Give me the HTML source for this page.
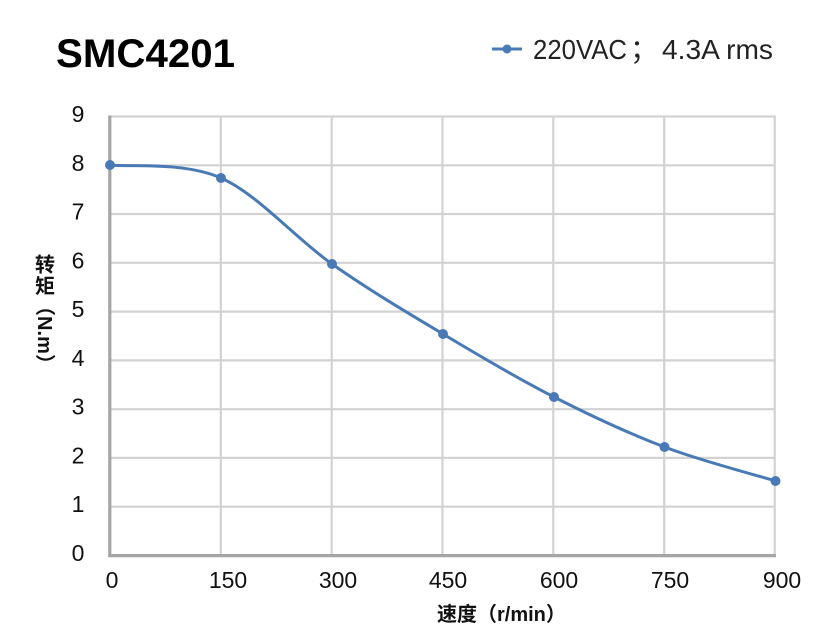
<!DOCTYPE html>
<html>
<head>
<meta charset="utf-8">
<style>
  html,body{margin:0;padding:0;background:#fff;}
  svg{display:block;}
  text{font-family:"Liberation Sans","Noto Sans CJK SC",sans-serif;}
</style>
</head>
<body>
<svg width="831" height="640" viewBox="0 0 831 640" xmlns="http://www.w3.org/2000/svg">
  <rect width="831" height="640" fill="#fff"/>
  <!-- Title -->
  <text x="56" y="67" font-size="40" font-weight="bold" fill="#000" textLength="179" lengthAdjust="spacingAndGlyphs">SMC4201</text>
  <!-- Legend -->
  <line x1="492" y1="49" x2="522" y2="49" stroke="#4a7ab6" stroke-width="3"/>
  <circle cx="507" cy="49" r="4.5" fill="#4a7ab6"/>
  <g font-size="28" fill="#222">
    <text x="533" y="59" textLength="94" lengthAdjust="spacingAndGlyphs">220VAC</text>
    <text x="630" y="59">；</text>
    <text x="662" y="59" textLength="111" lengthAdjust="spacingAndGlyphs">4.3A rms</text>
  </g>

  <!-- Grid -->
  <g stroke="#d2d2d2" stroke-width="2.2" fill="none">
    <line x1="110" y1="116.5" x2="775" y2="116.5"/>
    <line x1="110" y1="165.3" x2="775" y2="165.3"/>
    <line x1="110" y1="214" x2="775" y2="214"/>
    <line x1="110" y1="262.8" x2="775" y2="262.8"/>
    <line x1="110" y1="311.6" x2="775" y2="311.6"/>
    <line x1="110" y1="360.4" x2="775" y2="360.4"/>
    <line x1="110" y1="409.2" x2="775" y2="409.2"/>
    <line x1="110" y1="457.9" x2="775" y2="457.9"/>
    <line x1="110" y1="506.7" x2="775" y2="506.7"/>
    <line x1="220.8" y1="116.5" x2="220.8" y2="555"/>
    <line x1="331.7" y1="116.5" x2="331.7" y2="555"/>
    <line x1="442.5" y1="116.5" x2="442.5" y2="555"/>
    <line x1="553.3" y1="116.5" x2="553.3" y2="555"/>
    <line x1="664.2" y1="116.5" x2="664.2" y2="555"/>
    <line x1="774.7" y1="115.4" x2="774.7" y2="555"/>
  </g>
  <!-- Axes -->
  <g stroke="#a5a5a7" stroke-width="3.2" fill="none">
    <line x1="109.8" y1="115.5" x2="109.8" y2="557"/>
    <line x1="108.2" y1="555.6" x2="776" y2="555.6"/>
  </g>

  <!-- Y tick labels -->
  <g font-size="23" fill="#111" text-anchor="middle">
    <text x="78" y="122">9</text>
    <text x="78" y="170.8">8</text>
    <text x="78" y="219.5">7</text>
    <text x="78" y="268.3">6</text>
    <text x="78" y="317.1">5</text>
    <text x="78" y="365.9">4</text>
    <text x="78" y="414.7">3</text>
    <text x="78" y="463.4">2</text>
    <text x="78" y="512.2">1</text>
    <text x="78" y="561">0</text>
  </g>
  <!-- X tick labels -->
  <g font-size="23" fill="#111" text-anchor="middle">
    <text x="112" y="588">0</text>
    <text x="228" y="588">150</text>
    <text x="338" y="588">300</text>
    <text x="448" y="588">450</text>
    <text x="559" y="588">600</text>
    <text x="670" y="588">750</text>
    <text x="782" y="588">900</text>
  </g>

  <!-- Axis titles -->
  <text x="437" y="621" font-size="20" font-weight="bold" fill="#111">速度（r/min）</text>
  <g font-size="20" font-weight="bold" fill="#111">
    <text x="45" y="271.5" text-anchor="middle">转</text>
    <text x="45" y="293" text-anchor="middle">矩</text>
    <text transform="translate(38,296) rotate(90)" textLength="78" lengthAdjust="spacing">（N.m）</text>
  </g>

  <!-- Series -->
  <path d="M110,165 C128.5,167.2 184,161.5 221,178
           C258,194.5 295,238 332,264
           C369,290 406,311.8 443,334
           C480,356.2 517.1,378.2 554,397
           C590.9,415.8 627.6,433 664.5,447
           C701.4,461 757,475.3 775.5,481"
        fill="none" stroke="#4a7ab6" stroke-width="3" stroke-linejoin="round" stroke-linecap="round"/>
  <g fill="#4a7ab6">
    <circle cx="110" cy="165" r="5"/>
    <circle cx="221" cy="178" r="5"/>
    <circle cx="332" cy="264" r="5"/>
    <circle cx="443" cy="334" r="5"/>
    <circle cx="554" cy="397" r="5"/>
    <circle cx="664.5" cy="447" r="5"/>
    <circle cx="775.5" cy="481" r="5"/>
  </g>
</svg>
</body>
</html>
